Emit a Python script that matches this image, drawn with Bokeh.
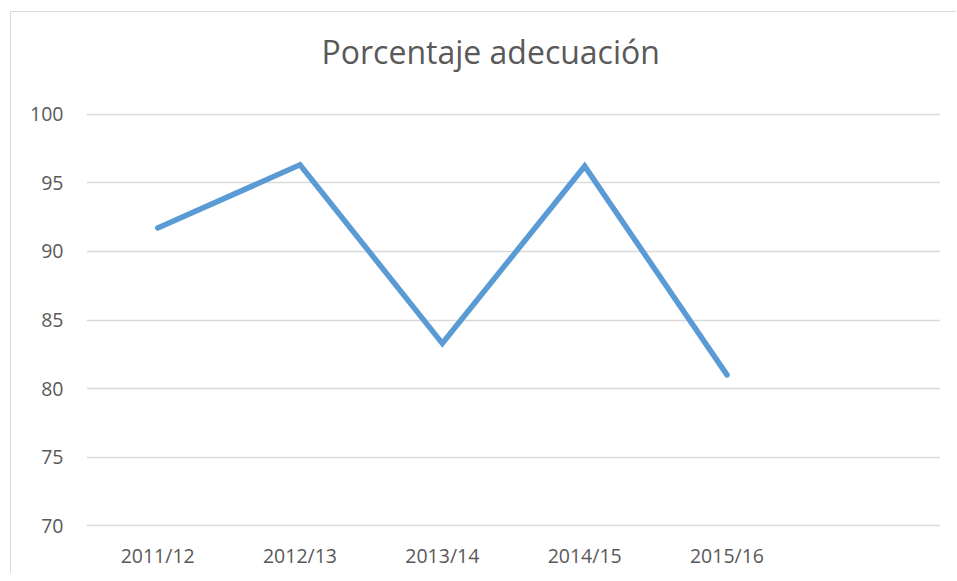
from bokeh.plotting import figure
from bokeh.models import FactorRange, Range1d, FixedTicker, Title
from bokeh.embed import file_html
from bokeh.resources import INLINE

# Data
categories = ["2011/12", "2012/13", "2013/14", "2014/15", "2015/16"]
extra_slot = [" "]
values = [91.7, 96.3, 83.3, 96.2, 81.0]
y_ticks = [70, 75, 80, 85, 90, 95, 100]
title_text = "Porcentaje adecuación"

FONT = "Open Sans"
TEXT_COLOR = "#595959"
GRID_COLOR = "#D9D9D9"
LINE_COLOR = "#5B9BD5"

p = figure(
    width=946, height=562,
    x_range=FactorRange(factors=categories + extra_slot, range_padding=0),
    y_range=Range1d(69.96, 100.04),
    output_backend="svg", toolbar_location=None,
    min_border_left=75, min_border_right=17,
    min_border_top=99, min_border_bottom=48,
)
p.styles = {
    "margin-left": "10px", "margin-top": "11px",
    "border-left": f"1px solid {GRID_COLOR}",
    "border-top": f"1px solid {GRID_COLOR}",
}
p.outline_line_color = None
p.background_fill_color = "white"
p.border_fill_color = "white"

p.title.text = title_text
p.title.align = "left"
p.title.offset = 235
p.title.standoff = 30
p.title.text_font = FONT
p.title.text_font_size = "32px"
p.title.text_font_style = "normal"
p.title.text_color = TEXT_COLOR

# blank spacer between the title and the plot area
spacer = Title(text=" ", text_font=FONT, text_font_size="10px", standoff=10)
p.add_layout(spacer, "above")

p.line(x=categories, y=values, line_color=LINE_COLOR, line_width=5.5,
       line_cap="round", line_join="miter")

# axes
p.yaxis.ticker = FixedTicker(ticks=y_ticks)
p.yaxis.axis_line_color = None
p.yaxis.major_tick_line_color = None
p.yaxis.minor_tick_line_color = None
p.yaxis.major_label_standoff = 17
p.yaxis.major_label_text_font = FONT
p.yaxis.major_label_text_font_size = "19.5px"
p.yaxis.major_label_text_color = TEXT_COLOR

p.xaxis.axis_line_color = None
p.xaxis.major_tick_line_color = None
p.xaxis.minor_tick_line_color = None
p.xaxis.major_label_standoff = 9
p.xaxis.major_label_text_font = FONT
p.xaxis.major_label_text_font_size = "19.5px"
p.xaxis.major_label_text_color = TEXT_COLOR

p.xgrid.grid_line_color = None
p.ygrid.grid_line_color = GRID_COLOR
p.ygrid.grid_line_width = 1.5
p.ygrid.ticker = FixedTicker(ticks=y_ticks)

open("out.html", "w").write(file_html(p, INLINE))
